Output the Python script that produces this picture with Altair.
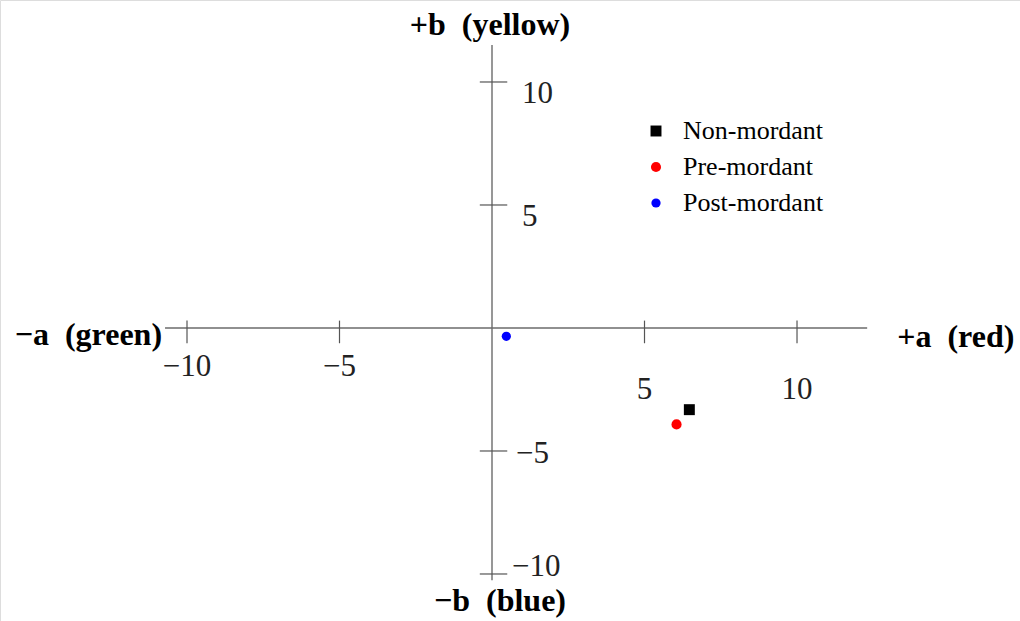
import altair as alt
import pandas as pd

# ---- data ----
series = ["Non-mordant", "Pre-mordant", "Post-mordant"]
a_star = [6.47, 6.05, 0.47]
b_star = [-3.32, -3.92, -0.34]
colors = ["#000000", "#ff0000", "#0000ff"]
shapes = ["square", "circle", "circle"]
sizes = [120, 85, 50]

x_ticks = [-10, -5, 5, 10]
y_ticks = [-10, -5, 5, 10]

# axis extents (data units)
h_axis = [-10.72, 12.3]
v_axis = [-10.25, 11.5]

X_DOMAIN = [-16.131, 17.311]
Y_DOMAIN = [-11.911, 13.333]

FONT = "Liberation Serif"
W, H = 1020, 621
SP = "\u00a0\u00a0"

xs = alt.Scale(domain=X_DOMAIN, nice=False, zero=False)
ys = alt.Scale(domain=Y_DOMAIN, nice=False, zero=False)

pts = pd.DataFrame({"series": series, "a": a_star, "b": b_star})
xt = pd.DataFrame({"v": x_ticks, "lo": [-0.62] * 4, "hi": [0.3] * 4, "zero": [0] * 4})
yt = pd.DataFrame({"v": y_ticks, "lo": [-0.4] * 4, "hi": [0.5] * 4, "zero": [0] * 4})
hx = pd.DataFrame({"x": [h_axis[0]], "x2": [h_axis[1]], "y": [0]})
vy = pd.DataFrame({"y": [v_axis[0]], "y2": [v_axis[1]], "x": [0]})

X = lambda f: alt.X(f, scale=xs, axis=None)
Y = lambda f: alt.Y(f, scale=ys, axis=None)

line_col = "#6b6b6b"

hline = alt.Chart(hx).mark_rule(color=line_col, strokeWidth=1.4).encode(
    x=X("x:Q"), x2="x2:Q", y=Y("y:Q"))
vline = alt.Chart(vy).mark_rule(color=line_col, strokeWidth=1.4).encode(
    y=Y("y:Q"), y2="y2:Q", x=X("x:Q"))

xtick = alt.Chart(xt).mark_rule(color="#555555", strokeWidth=1.2).encode(
    x=X("v:Q"), y=Y("lo:Q"), y2="hi:Q")
ytick = alt.Chart(yt).mark_rule(color="#555555", strokeWidth=1.2).encode(
    y=Y("v:Q"), x=X("lo:Q"), x2="hi:Q")

LBL = dict(font=FONT, fontSize=31, color="#222222", baseline="middle")
xlab_neg = alt.Chart(xt).transform_filter("datum.v < 0").mark_text(
    align="center", dy=39, **LBL
).encode(x=X("v:Q"), y=Y("zero:Q"), text=alt.Text("v:Q", format="d"))
xlab_pos = alt.Chart(xt).transform_filter("datum.v > 0").mark_text(
    align="center", dy=62, **LBL
).encode(x=X("v:Q"), y=Y("zero:Q"), text=alt.Text("v:Q", format="d"))
ylab_pos = alt.Chart(yt).transform_filter("datum.v > 0").mark_text(
    align="left", dx=30, dy=12, **LBL
).encode(y=Y("v:Q"), x=X("zero:Q"), text=alt.Text("v:Q", format="d"))
ylab_m5 = alt.Chart(yt).transform_filter("datum.v == -5").mark_text(
    align="left", dx=24, dy=3, **LBL
).encode(y=Y("v:Q"), x=X("zero:Q"), text=alt.Text("v:Q", format="d"))
ylab_m10 = alt.Chart(yt).transform_filter("datum.v == -10").mark_text(
    align="left", dx=20, dy=-7, **LBL
).encode(y=Y("v:Q"), x=X("zero:Q"), text=alt.Text("v:Q", format="d"))

def title(txt, x, y, **kw):
    df = pd.DataFrame({"x": [x], "y": [y], "t": [txt]})
    return alt.Chart(df).mark_text(font=FONT, fontSize=32, fontWeight="bold",
                                   color="black", baseline="alphabetic", **kw).encode(
        x=X("x:Q"), y=Y("y:Q"), text="t:N")

t_left = title("\u2212a" + SP + "(green)", h_axis[0], 0, align="right", dx=-3, dy=17)
t_right = title("+a" + SP + "(red)", h_axis[1], 0, align="left", dx=30, dy=19)
t_top = title("+b" + SP + "(yellow)", 0, v_axis[1], align="center", dx=-2, dy=-10)
t_bot = title("\u2212b" + SP + "(blue)", 0, v_axis[0], align="center", dx=8, dy=31)

leg = alt.Legend(orient="none", legendX=643, legendY=118, title=None,
                 labelFont=FONT, labelFontSize=26, labelColor="black",
                 symbolSize=110, symbolStrokeWidth=0, labelOffset=14,
                 rowPadding=10, padding=0)

points = alt.Chart(pts).mark_point(filled=True, opacity=1, strokeWidth=0).encode(
    x=X("a:Q"), y=Y("b:Q"),
    color=alt.Color("series:N", scale=alt.Scale(domain=series, range=colors), legend=leg),
    shape=alt.Shape("series:N", scale=alt.Scale(domain=series, range=shapes), legend=leg),
    size=alt.Size("series:N", scale=alt.Scale(domain=series, range=sizes), legend=None),
)

chart = alt.layer(hline, vline, xtick, ytick, xlab_neg, xlab_pos, ylab_pos, ylab_m5, ylab_m10,
                  t_left, t_right, t_top, t_bot, points).properties(
    width=W, height=H, autosize=alt.AutoSizeParams(type="none"), padding=0
).configure_view(stroke=None).configure(background="white")

chart.save("out.html", embed_options={"renderer": "svg", "actions": False})
